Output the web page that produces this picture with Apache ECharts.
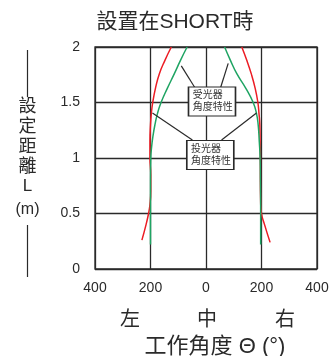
<!DOCTYPE html>
<html>
<head>
<meta charset="utf-8">
<script src="https://cdn.jsdelivr.net/npm/echarts@6/dist/echarts.min.js"></script>
<style>
  html, body { margin: 0; padding: 0; background: #fff; }
  #chart { width: 336px; height: 356px; }
</style>
</head>
<body>
<div id="chart"></div>
<script>
// distance L (m) for each sampled point, and the angle at that distance
const redLeftL   = [2.0, 1.88, 1.76, 1.63, 1.5, 1.4, 1.3, 1.15, 1.0, 0.85, 0.7, 0.58, 0.5, 0.4, 0.26]
const redLeftX   = [-125, -148, -168, -182, -192, -197, -200, -202, -202, -199, -199, -202, -207, -216, -231]
const redRightL  = [2.0, 1.88, 1.76, 1.63, 1.5, 1.4, 1.3, 1.15, 1.0, 0.8, 0.6, 0.5, 0.4, 0.24]
const redRightX  = [129, 147, 163, 177, 187, 191, 194, 195, 196, 196, 197, 200, 211, 231]
const greenLeftL  = [2.0, 1.88, 1.76, 1.63, 1.5, 1.4, 1.3, 1.2, 1.1, 1.0, 0.8, 0.5, 0.22]
const greenLeftX  = [-68, -92, -114, -139, -162, -175, -184, -191, -196, -199, -200, -200, -200]
const greenRightL = [2.0, 1.88, 1.76, 1.63, 1.5, 1.4, 1.3, 1.15, 1.0, 0.8, 0.5, 0.22]
const greenRightX = [67, 88, 111, 143, 170, 182, 188, 192, 195, 196, 197, 197]

const xTicks = [-400, -200, 0, 200, 400]
const yTicks = [0, 0.5, 1, 1.5, 2]

const title = '設置在SHORT時'
const yTitleChars = ['設', '定', '距', '離']
const dirLabels = ['左', '中', '右']
const xTitle = '工作角度 Θ (°)'
const boxLabels = ['受光器\n角度特性', '投光器\n角度特性']

const RED = '#ec1c24'
const GREEN = '#1fa463'
const INK = '#2a2a2a'
const FONT = "'Liberation Sans', 'Noto Sans CJK TC', sans-serif"

const pairs = (xs, ls) => xs.map((x, i) => [x, ls[i]])

const chart = echarts.init(document.getElementById('chart'))

function curve(name, color, data) {
  return {
    name: name,
    type: 'line',
    data: data,
    smooth: 0.5,
    symbol: 'none',
    silent: true,
    lineStyle: { color: color, width: 1.5 },
    z: 3
  }
}

const leader = (a, b) => [{ coord: a }, { coord: b }]

const yTitleGraphics = yTitleChars.map((c, i) => ({
  type: 'text', x: 27.5, y: 107 + i * 20,
  style: { text: c, fill: INK, font: '18px ' + FONT, align: 'center', verticalAlign: 'middle' }
}))

chart.setOption({
  animation: false,
  grid: {
    left: 95, right: 19, top: 47, bottom: 87,
    show: true, borderColor: INK, borderWidth: 1.3
  },
  xAxis: {
    type: 'value',
    min: xTicks[0], max: xTicks[xTicks.length - 1], interval: 200,
    axisLine: { show: false },
    axisTick: { show: false },
    axisLabel: {
      color: INK, fontSize: 14, fontFamily: FONT, margin: 12,
      formatter: v => String(Math.abs(v))
    },
    splitLine: { show: true, lineStyle: { color: INK, width: 1.3 } }
  },
  yAxis: {
    type: 'value',
    min: yTicks[0], max: yTicks[yTicks.length - 1], interval: 0.5,
    axisLine: { show: false },
    axisTick: { show: false },
    axisLabel: { color: INK, fontSize: 14, fontFamily: FONT, margin: 15 },
    splitLine: { show: true, lineStyle: { color: INK, width: 1.3 } }
  },
  series: [
    Object.assign(curve('red-left', RED, pairs(redLeftX, redLeftL)), {
      markLine: {
        silent: true, symbol: 'none',
        lineStyle: { color: INK, width: 1.2, type: 'solid' },
        label: { show: false },
        data: [
          leader([-89, 1.83], [-41, 1.637]),
          leader([80, 1.853], [53, 1.637]),
          leader([-193, 1.405], [-49, 1.162]),
          leader([182, 1.405], [56, 1.162])
        ]
      },
      markPoint: {
        silent: true,
        symbol: 'rect',
        symbolSize: [47, 29],
        itemStyle: { color: '#fff', borderColor: INK, borderWidth: 1.3 },
        label: {
          show: true, position: [5, 3], color: '#333',
          fontSize: 10, lineHeight: 12, fontFamily: FONT, align: 'left'
        },
        data: [
          { coord: [21.6, 1.509], value: boxLabels[0], label: { formatter: boxLabels[0] } },
          { coord: [15.5, 1.027], value: boxLabels[1], label: { formatter: boxLabels[1] } }
        ]
      }
    }),
    curve('red-right', RED, pairs(redRightX, redRightL)),
    curve('green-left', GREEN, pairs(greenLeftX, greenLeftL)),
    curve('green-right', GREEN, pairs(greenRightX, greenRightL))
  ],
  graphic: [
    {
      type: 'text', x: 175, y: 22,
      style: { text: title, fill: INK, font: '21px ' + FONT, align: 'center', verticalAlign: 'middle' }
    },
    { type: 'line', shape: { x1: 27.5, y1: 50, x2: 27.5, y2: 97 }, style: { stroke: INK, lineWidth: 1.2 } },
    { type: 'line', shape: { x1: 27.5, y1: 225, x2: 27.5, y2: 277 }, style: { stroke: INK, lineWidth: 1.2 } },
    ...yTitleGraphics,
    {
      type: 'text', x: 27.5, y: 186,
      style: { text: 'L', fill: INK, font: '17px ' + FONT, align: 'center', verticalAlign: 'middle' }
    },
    {
      type: 'text', x: 27.5, y: 210,
      style: { text: '(m)', fill: INK, font: '16px ' + FONT, align: 'center', verticalAlign: 'middle' }
    },
    ...dirLabels.map((t, i) => ({
      type: 'text', x: [130, 207, 285][i], y: 320,
      style: { text: t, fill: INK, font: '20px ' + FONT, align: 'center', verticalAlign: 'middle' }
    })),
    {
      type: 'text', x: 215, y: 347,
      style: { text: xTitle, fill: INK, font: '22px ' + FONT, align: 'center', verticalAlign: 'middle' }
    }
  ]
})
</script>
</body>
</html>
